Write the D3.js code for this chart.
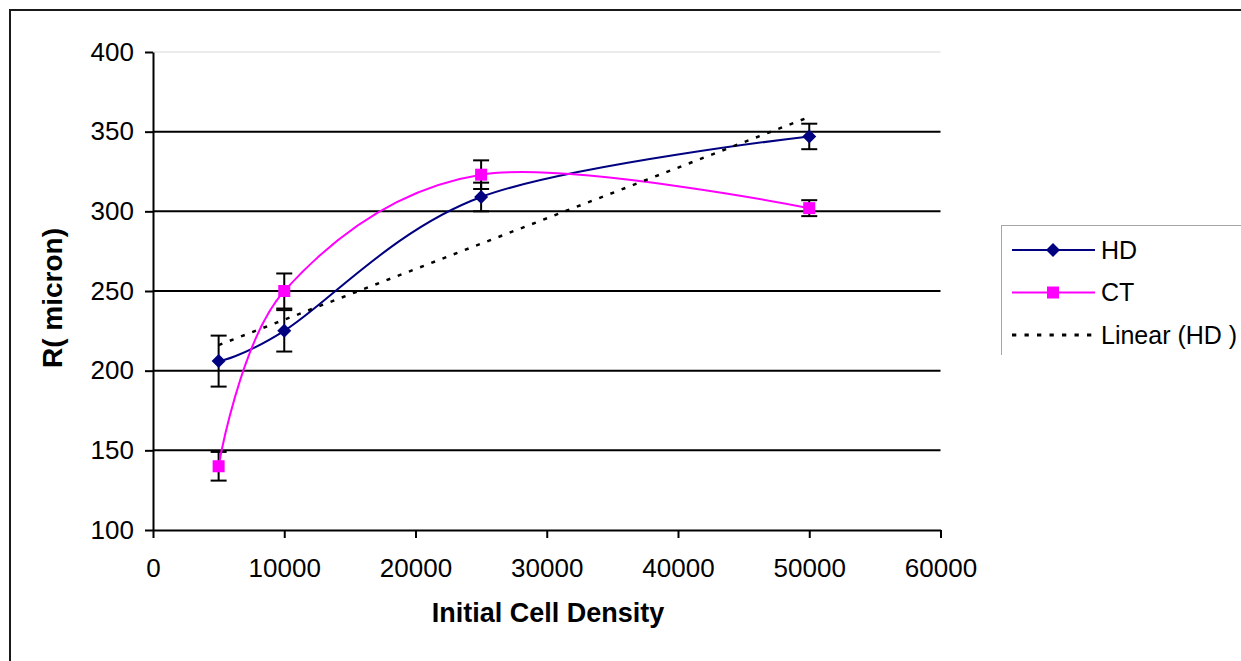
<!DOCTYPE html>
<html><head><meta charset="utf-8">
<script src="https://cdn.jsdelivr.net/npm/d3@7"></script>
<style>
body{margin:0;background:#fff;overflow:hidden}
svg{display:block}
text{font-family:"Liberation Sans",Arial,sans-serif;fill:#000}
</style>
</head><body>
<svg id="chart" width="1241" height="661"></svg>
<script>
// ---- data ----
const densities = [5000, 10000, 25000, 50000];
const hdValues  = [206, 225, 309, 347];
const hdErrors  = [16, 13, 9, 8];
const ctValues  = [140, 250, 323, 302];
const ctErrors  = [9, 11, 9, 5];
const xTicks = [0, 10000, 20000, 30000, 40000, 50000, 60000];
const yTicks = [100, 150, 200, 250, 300, 350, 400];
const legendNames = ["HD", "CT", "Linear (HD )"];
const xTitle = "Initial Cell Density";
const yTitle = "R( micron)";

// ---- setup ----
const svg = d3.select("#chart");
const HD_COLOR = "#000080", CT_COLOR = "#FF00FF";
const x = d3.scaleLinear().domain([0, 60000]).range([153, 940.5]);
const y = d3.scaleLinear().domain([100, 400]).range([530, 52]);

// outer frame
svg.append("rect").attr("x", 10).attr("y", 10).attr("width", 1300).attr("height", 700)
  .attr("fill", "none").attr("stroke", "#1a1a1a").attr("stroke-width", 2);

// gridlines
svg.append("g").selectAll("line").data(yTicks.filter(v => v > 100)).join("line")
  .attr("x1", x(0)).attr("x2", x(60000))
  .attr("y1", d => y(d)).attr("y2", d => y(d))
  .attr("stroke", d => d === 400 ? "#d8d8d8" : "#000")
  .attr("stroke-width", d => d === 400 ? 1 : 2);

// axes
const yAxis = svg.append("g").attr("transform", `translate(${x(0)},0)`)
  .call(d3.axisLeft(y).tickValues(yTicks).tickSize(8).tickSizeOuter(0).tickPadding(11));
const xAxis = svg.append("g").attr("transform", `translate(0,${y(100)})`)
  .call(d3.axisBottom(x).tickValues(xTicks).tickFormat(d3.format("d")).tickSize(8).tickSizeOuter(0).tickPadding(21));
[yAxis, xAxis].forEach(a => {
  a.selectAll("path, line").attr("stroke", "#000").attr("stroke-width", 2);
  a.selectAll("text").attr("font-size", 26).attr("font-family", "'Liberation Sans',Arial,sans-serif").attr("fill", "#000");
});

// titles
svg.append("text").attr("x", 548).attr("y", 622).attr("text-anchor", "middle")
  .attr("font-size", 27).attr("font-weight", "bold").text(xTitle);
svg.append("text").attr("transform", "translate(62,298) rotate(-90)").attr("text-anchor", "middle")
  .attr("font-size", 28).attr("font-weight", "bold").text(yTitle);

// series
const hd = densities.map((d, i) => ({x: d, y: hdValues[i], e: hdErrors[i]}));
const ct = densities.map((d, i) => ({x: d, y: ctValues[i], e: ctErrors[i]}));
const smooth = d3.line().x(d => x(d.x)).y(d => y(d.y)).curve(d3.curveCardinal.tension(0));

function errorBars(data) {
  const g = svg.append("g").attr("stroke", "#000").attr("stroke-width", 2);
  data.forEach(d => {
    g.append("line").attr("x1", x(d.x)).attr("x2", x(d.x)).attr("y1", y(d.y - d.e)).attr("y2", y(d.y + d.e));
    [d.y - d.e, d.y + d.e].forEach(v => g.append("line")
      .attr("x1", x(d.x) - 8).attr("x2", x(d.x) + 8).attr("y1", y(v)).attr("y2", y(v)));
  });
}
errorBars(hd);
errorBars(ct);

svg.append("path").datum(hd).attr("d", smooth).attr("fill", "none").attr("stroke", HD_COLOR).attr("stroke-width", 2);
svg.append("path").datum(ct).attr("d", smooth).attr("fill", "none").attr("stroke", CT_COLOR).attr("stroke-width", 2);

svg.append("g").selectAll("path").data(hd).join("path")
  .attr("transform", d => `translate(${x(d.x)},${y(d.y)})`)
  .attr("d", "M0,-7L7,0L0,7L-7,0Z").attr("fill", HD_COLOR);
svg.append("g").selectAll("rect").data(ct).join("rect")
  .attr("x", d => x(d.x) - 6).attr("y", d => y(d.y) - 6).attr("width", 12).attr("height", 12)
  .attr("fill", CT_COLOR);

// linear trendline (least squares of HD)
const mx = d3.mean(densities), my = d3.mean(hdValues);
const slope = d3.sum(densities, (d, i) => (d - mx) * (hdValues[i] - my)) / d3.sum(densities, d => (d - mx) ** 2);
const icpt = my - slope * mx;
const xs = d3.extent(densities);
svg.append("line").attr("x1", x(xs[0])).attr("y1", y(icpt + slope * xs[0]))
  .attr("x2", x(xs[1])).attr("y2", y(icpt + slope * xs[1]))
  .attr("stroke", "#000").attr("stroke-width", 2.5).attr("stroke-dasharray", "4,8");

// legend
const lg = svg.append("g");
lg.append("line").attr("x1", 1001).attr("x2", 1241).attr("y1", 225.5).attr("y2", 225.5).attr("stroke", "#a6a6a6").attr("stroke-width", 1);
lg.append("line").attr("x1", 1001.5).attr("x2", 1001.5).attr("y1", 225).attr("y2", 355).attr("stroke", "#a6a6a6").attr("stroke-width", 1);
const legY = [250, 292.5, 335];
const legColor = [HD_COLOR, CT_COLOR, "#000"];
legendNames.forEach((name, i) => {
  const ly = legY[i];
  const ln = lg.append("line").attr("x1", 1012).attr("x2", 1095).attr("y1", ly).attr("y2", ly)
    .attr("stroke", legColor[i]).attr("stroke-width", i === 2 ? 3 : 2);
  if (i === 2) ln.attr("stroke-dasharray", "4.3,8.2");
  if (i === 0) lg.append("path").attr("transform", `translate(1053,${ly})`).attr("d", "M0,-7L7,0L0,7L-7,0Z").attr("fill", HD_COLOR);
  if (i === 1) lg.append("rect").attr("x", 1047).attr("y", ly - 6).attr("width", 12).attr("height", 12).attr("fill", CT_COLOR);
  lg.append("text").attr("x", 1101).attr("y", ly).attr("dy", "0.35em").attr("font-size", 25).text(name);
});
</script>
</body></html>
